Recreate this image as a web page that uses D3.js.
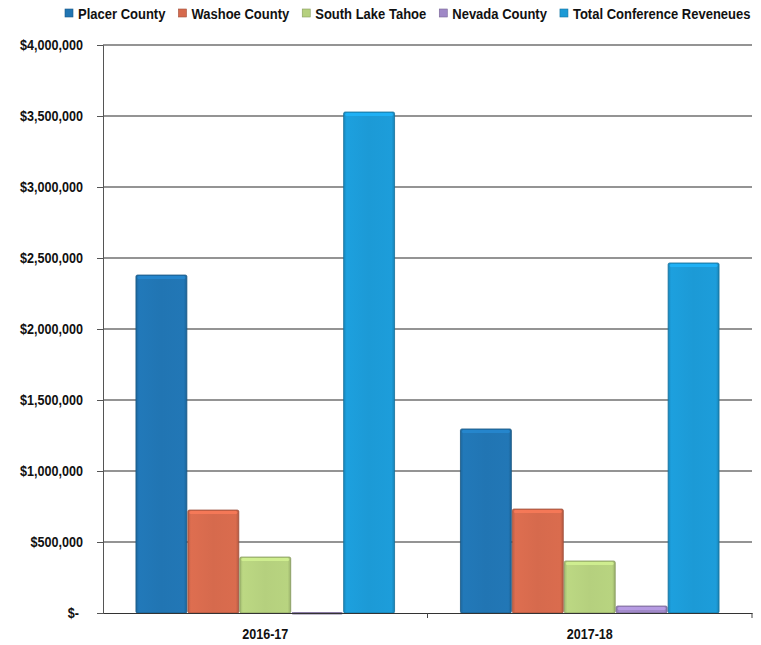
<!DOCTYPE html>
<html>
<head>
<meta charset="utf-8">
<script src="https://cdn.jsdelivr.net/npm/d3@7/dist/d3.min.js"></script>
<style>
  html, body { margin: 0; padding: 0; background: #ffffff; }
  svg { display: block; }
  .lbl { font-family: "Liberation Sans", Arial, sans-serif; font-weight: bold; fill: #111; }
</style>
</head>
<body>
<svg id="chart" width="761" height="645"></svg>
<script>
// Conference revenue by county, two fiscal years
const years = ["2016-17", "2017-18"];
const seriesNames = ["Placer County", "Washoe County", "South Lake Tahoe", "Nevada County", "Total Conference Reveneues"];
const placer = [2380000, 1296000];
const washoe = [725000, 732000];
const southLakeTahoe = [394000, 366000];
const nevada = [3000, 49000];
const totalRevenues = [3528000, 2465000];
const yTicks = [0, 500000, 1000000, 1500000, 2000000, 2500000, 3000000, 3500000, 4000000];

const seriesValues = [placer, washoe, southLakeTahoe, nevada, totalRevenues];
const colors = ["#2175b3", "#d66a4d", "#b5d07e", "#9f88c6", "#1c9ad6"];

// Condensed look for the bold labels
const narrow = 0.84;

const svg = d3.select("#chart");
const margin = { left: 103, right: 9, top: 45, bottom: 32 };
const W = 761, H = 645;

const y = d3.scaleLinear().domain([0, 4000000]).range([H - margin.bottom, margin.top]);
const x0 = d3.scaleBand().domain(years).range([margin.left, W - margin.right]).padding(0);
const x1 = d3.scaleBand().domain(seriesNames)
  .range([x0.bandwidth() * 0.1, x0.bandwidth() * 0.9]).padding(0);

// Horizontal gridlines
svg.append("g")
  .selectAll("line")
  .data(yTicks.filter(t => t > 0))
  .join("line")
  .attr("x1", margin.left).attr("x2", W - margin.right)
  .attr("y1", d => y(d)).attr("y2", d => y(d))
  .attr("stroke", "#2a2a2a").attr("stroke-width", 1.1);

// Y axis
const fmt = d => d === 0 ? "$-" : "$" + d3.format(",")(d);
const yAxis = d3.axisLeft(y).tickValues(yTicks).tickSize(6).tickFormat(fmt);
const gy = svg.append("g").attr("transform", `translate(${margin.left},0)`).call(yAxis);
gy.select(".domain").attr("stroke", "#555").attr("stroke-width", 1);
gy.selectAll(".tick line").attr("stroke", "#555");
const ySx = 0.9;
gy.selectAll(".tick text")
  .attr("class", "lbl")
  .attr("x", d => (d === 0 ? -24 : -20) / ySx)
  .attr("transform", `scale(${ySx},1)`)
  .style("font-size", "14px");

// Bars
const defs = svg.append("defs");
colors.forEach((c, i) => {
  const g = defs.append("linearGradient").attr("id", "g" + i)
    .attr("x1", 0).attr("x2", 1).attr("y1", 0).attr("y2", 0);
  const base = d3.color(c);
  g.append("stop").attr("offset", "0%").attr("stop-color", base.darker(0.35));
  g.append("stop").attr("offset", "6%").attr("stop-color", base.brighter(0.1));
  g.append("stop").attr("offset", "50%").attr("stop-color", base);
  g.append("stop").attr("offset", "94%").attr("stop-color", base.brighter(0.05));
  g.append("stop").attr("offset", "100%").attr("stop-color", base.darker(0.45));
});

const barData = [];
years.forEach((yr, yi) => {
  seriesNames.forEach((s, si) => {
    barData.push({ year: yr, series: s, si, value: seriesValues[si][yi] });
  });
});

const bars = svg.append("g").selectAll("g")
  .data(barData)
  .join("g")
  .attr("transform", d => `translate(${x0(d.year) + x1(d.series)},0)`);

bars.append("rect")
  .attr("x", 0.5)
  .attr("y", d => y(d.value))
  .attr("width", x1.bandwidth() - 1)
  .attr("height", d => Math.max(1.5, y(0) - y(d.value)))
  .attr("rx", 1.5)
  .attr("fill", d => `url(#g${d.si})`)
  .attr("stroke", d => d3.color(colors[d.si]).darker(0.9))
  .attr("stroke-width", 0.8);

// Bevelled top edge
bars.filter(d => y(0) - y(d.value) > 6)
  .append("rect")
  .attr("x", 2)
  .attr("y", d => y(d.value) + 1)
  .attr("width", x1.bandwidth() - 4)
  .attr("height", 3)
  .attr("rx", 1.5)
  .attr("fill", d => d3.color(colors[d.si]).brighter(0.45))
  .attr("opacity", 0.8);

// X axis
const xAxis = d3.axisBottom(x0).tickSize(0).tickFormat(d => d);
const gx = svg.append("g").attr("transform", `translate(0,${y(0)})`).call(xAxis);
gx.select(".domain").attr("stroke", "#333").attr("stroke-width", 1.2);
gx.selectAll(".tick text")
  .attr("class", "lbl")
  .attr("y", 15)
  .attr("transform", `scale(${narrow},1)`)
  .style("font-size", "15px");
// Category boundary ticks
svg.append("g").selectAll("line")
  .data(years)
  .join("line")
  .attr("x1", d => x0(d) + x0.bandwidth()).attr("x2", d => x0(d) + x0.bandwidth())
  .attr("y1", y(0)).attr("y2", y(0) + 5)
  .attr("stroke", "#444");

// Legend
const legend = svg.append("g").attr("transform", "translate(65,0)");
let lx = 0;
seriesNames.forEach((s, i) => {
  const item = legend.append("g").attr("transform", `translate(${lx},0)`);
  item.append("rect")
    .attr("x", 0).attr("y", 9).attr("width", 8).attr("height", 8)
    .attr("fill", colors[i])
    .attr("stroke", d3.color(colors[i]).darker(0.8)).attr("stroke-width", 0.6);
  const t = item.append("text")
    .attr("class", "lbl")
    .attr("x", 13 / narrow).attr("y", 19)
    .attr("transform", `scale(${narrow},1)`)
    .style("font-size", "15.5px")
    .text(s);
  lx += 13 + t.node().getComputedTextLength() * narrow + 13;
});
</script>
</body>
</html>
